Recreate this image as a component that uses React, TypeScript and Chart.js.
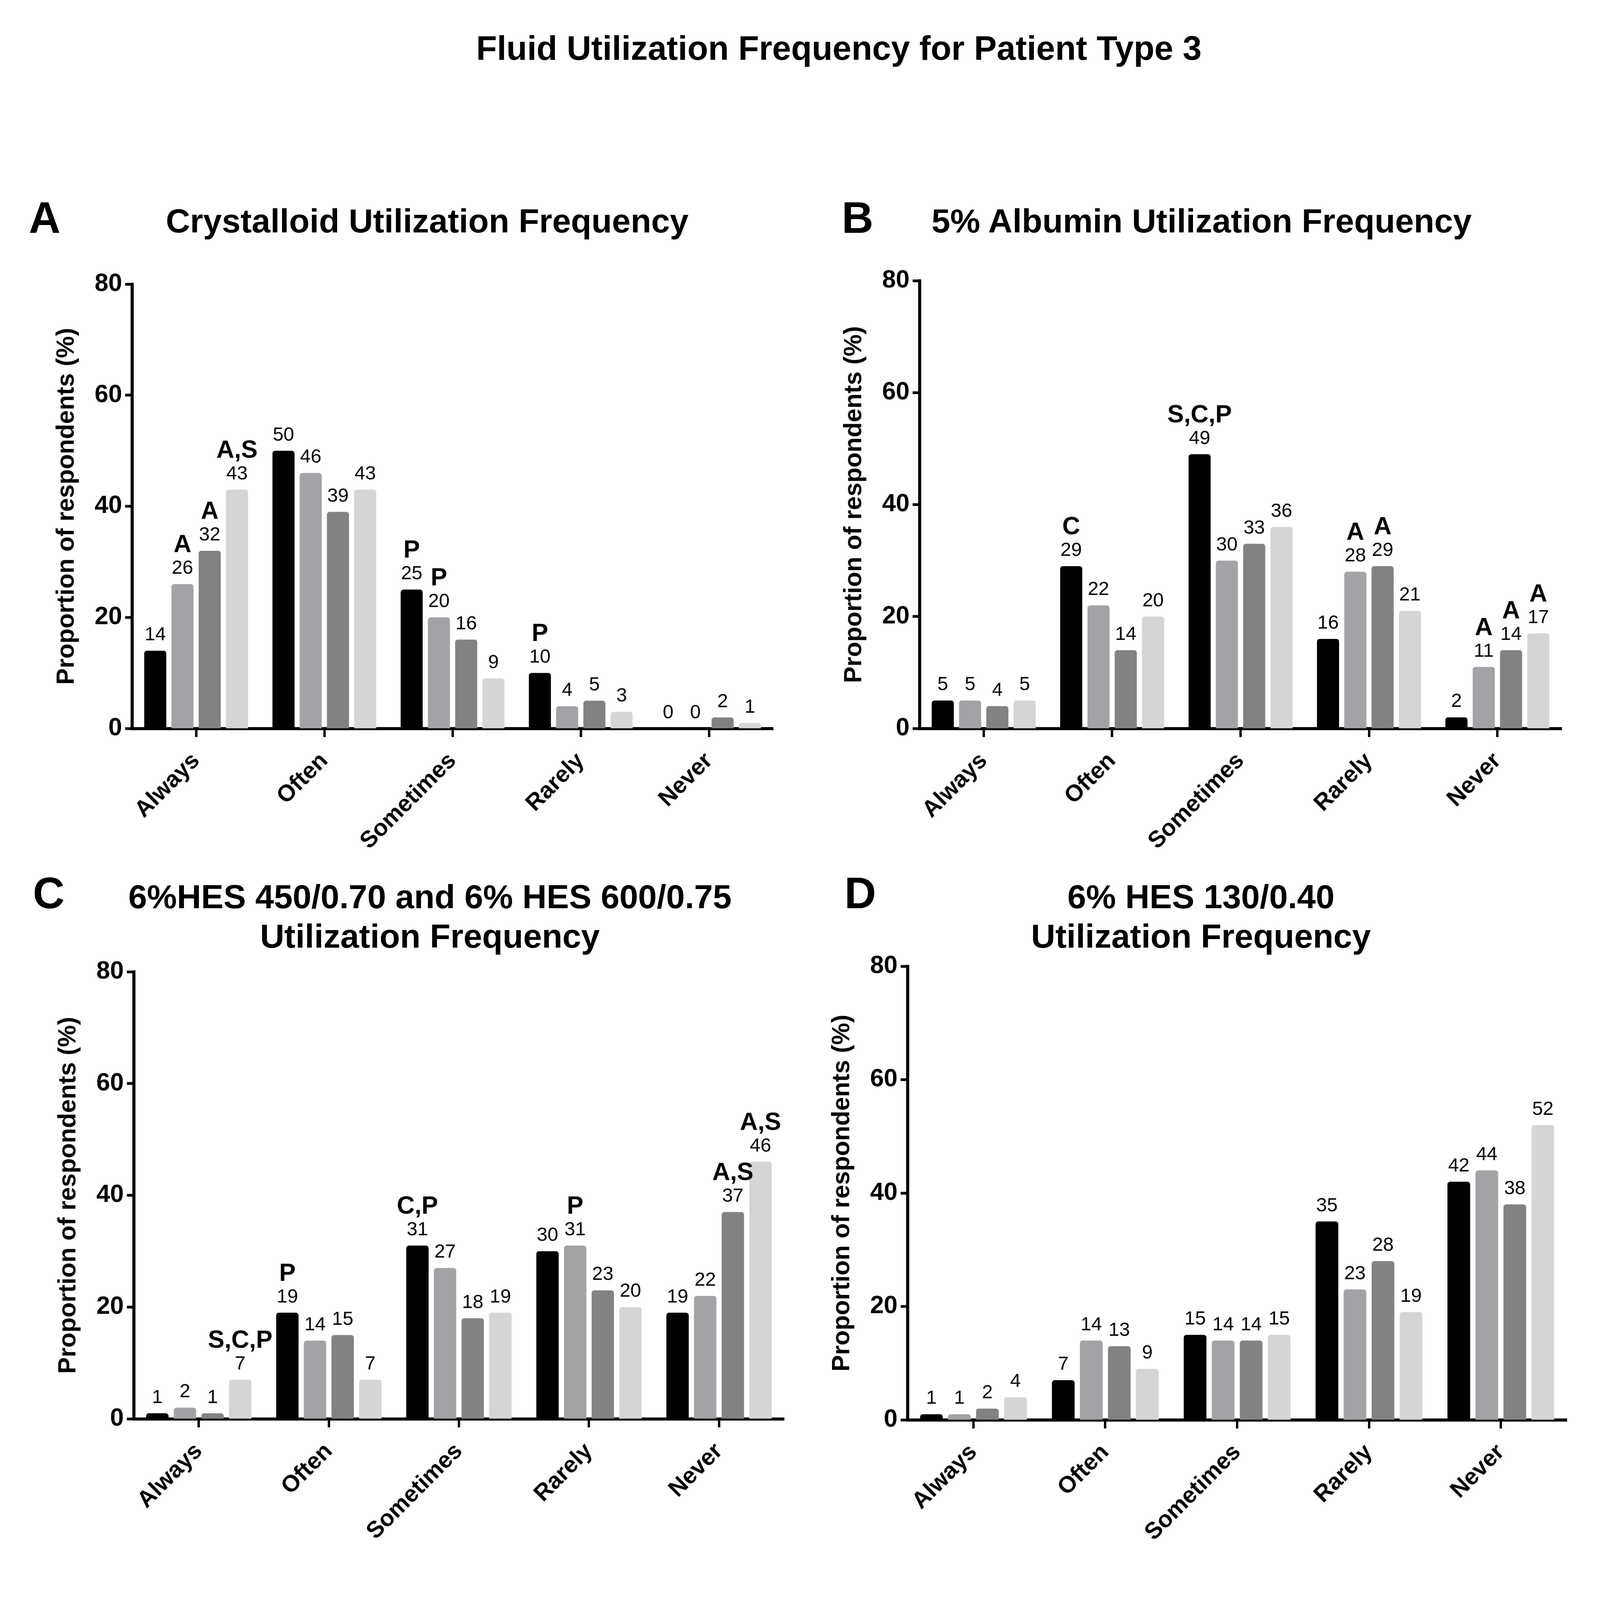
import React, { useEffect, useRef } from 'react';
import { Chart, registerables } from 'chart.js';

Chart.register(...registerables);

const categories = ['Always', 'Often', 'Sometimes', 'Rarely', 'Never'];
const groupNames = ['A', 'S', 'C', 'P'];
const barColors = ['#000000', '#a2a2a7', '#828282', '#d5d5d5'];
const yTicks = [0, 20, 40, 60, 80];

// one row per respondent group, one value per category
const crystalloidValues = [
  [14, 50, 25, 10, 0],
  [26, 46, 20, 4, 0],
  [32, 39, 16, 5, 2],
  [43, 43, 9, 3, 1],
];
const crystalloidNotes = [
  ['', '', 'P', 'P', ''],
  ['A', '', 'P', '', ''],
  ['A', '', '', '', ''],
  ['A,S', '', '', '', ''],
];

const albuminValues = [
  [5, 29, 49, 16, 2],
  [5, 22, 30, 28, 11],
  [4, 14, 33, 29, 14],
  [5, 20, 36, 21, 17],
];
const albuminNotes = [
  ['', 'C', 'S,C,P', '', ''],
  ['', '', '', 'A', 'A'],
  ['', '', '', 'A', 'A'],
  ['', '', '', '', 'A'],
];

const hesOldValues = [
  [1, 19, 31, 30, 19],
  [2, 14, 27, 31, 22],
  [1, 15, 18, 23, 37],
  [7, 7, 19, 20, 46],
];
const hesOldNotes = [
  ['', 'P', 'C,P', '', ''],
  ['', '', '', 'P', ''],
  ['', '', '', '', 'A,S'],
  ['S,C,P', '', '', '', 'A,S'],
];

const hesNewValues = [
  [1, 7, 15, 35, 42],
  [1, 14, 14, 23, 44],
  [2, 13, 14, 28, 38],
  [4, 9, 15, 19, 52],
];
const hesNewNotes = [
  ['', '', '', '', ''],
  ['', '', '', '', ''],
  ['', '', '', '', ''],
  ['', '', '', '', ''],
];

const FONT = '"Liberation Sans", Arial, sans-serif';
Chart.defaults.font.family = FONT;
Chart.defaults.color = '#000';

const PAGE_W = 4667;
const PAGE_H = 4663;
const YW = 330;
const XH = 440;
const PAD_T = 70;
const PAD_R = 30;

// draws the value above each bar and the significance letters above that
const barNotesPlugin = {
  id: 'barNotes',
  afterDatasetsDraw(chart: any, _args: any, opts: any) {
    const ctx = chart.ctx;
    ctx.save();
    ctx.fillStyle = '#000';
    ctx.textAlign = 'center';
    ctx.textBaseline = 'alphabetic';
    chart.data.datasets.forEach((ds: any, di: number) => {
      const meta = chart.getDatasetMeta(di);
      meta.data.forEach((bar: any, i: number) => {
        const { x, y } = bar.getProps(['x', 'y'], true);
        ctx.font = `56px ${FONT}`;
        ctx.fillText(String(ds.data[i]), x, y - 30);
        const note = opts.notes?.[di]?.[i];
        if (note) {
          ctx.font = `bold 72px ${FONT}`;
          ctx.fillText(note, x, y - 93);
        }
      });
    });
    ctx.restore();
  },
};

type Area = { l: number; t: number; r: number; b: number };

function BarPanel({ values, notes, area }: { values: number[][]; notes: string[][]; area: Area }) {
  const ref = useRef<HTMLCanvasElement>(null);
  const left = area.l - YW;
  const top = area.t - PAD_T;
  const width = area.r + PAD_R - left;
  const height = area.b + XH - top;

  useEffect(() => {
    if (!ref.current) return;
    const chart = new Chart(ref.current, {
      type: 'bar',
      data: {
        labels: categories,
        datasets: values.map((d, i) => ({
          label: groupNames[i],
          data: d,
          backgroundColor: barColors[i],
          borderRadius: 8,
          borderSkipped: 'start',
          categoryPercentage: 0.85,
          barPercentage: 0.81,
        })),
      },
      options: {
        responsive: false,
        animation: false,
        devicePixelRatio: 1,
        layout: { padding: { top: PAD_T, right: PAD_R, left: 0, bottom: 0 } },
        plugins: {
          legend: { display: false },
          tooltip: { enabled: false },
          barNotes: { notes },
        } as any,
        scales: {
          x: {
            z: 1,
            grid: {
              offset: false,
              drawOnChartArea: false,
              drawTicks: true,
              tickLength: 25,
              tickWidth: 7,
              tickColor: '#000',
            },
            border: { display: true, width: 9, color: '#000' },
            ticks: {
              autoSkip: false,
              minRotation: 45,
              maxRotation: 45,
              padding: 30,
              color: '#000',
              font: { size: 68, weight: 'bold' },
            },
            afterFit: (s: any) => {
              s.height = XH;
            },
          },
          y: {
            z: 1,
            min: 0,
            max: 80,
            afterBuildTicks: (s: any) => {
              s.ticks = yTicks.map((v) => ({ value: v }));
            },
            grid: {
              drawOnChartArea: false,
              drawTicks: true,
              tickLength: 20,
              tickWidth: 8,
              tickColor: '#000',
            },
            border: { display: true, width: 9, color: '#000' },
            ticks: {
              padding: 9,
              color: '#000',
              font: { size: 72, weight: 'bold' },
            },
            title: {
              display: true,
              text: 'Proportion of respondents (%)',
              color: '#000',
              font: { size: 72, weight: 'bold' },
              padding: { top: 97, bottom: 0 },
            },
            afterFit: (s: any) => {
              s.width = YW;
            },
          },
        },
      } as any,
      plugins: [barNotesPlugin],
    });
    return () => chart.destroy();
  }, []);

  return (
    <canvas
      ref={ref}
      width={width}
      height={height}
      style={{ position: 'absolute', left, top, width, height }}
    />
  );
}

const titleStyle: React.CSSProperties = {
  position: 'absolute',
  fontFamily: FONT,
  fontWeight: 'bold',
  fontSize: 98,
  lineHeight: '115px',
  whiteSpace: 'nowrap',
  textAlign: 'center',
  transform: 'translateX(-50%)',
  color: '#000',
};

const letterStyle: React.CSSProperties = {
  position: 'absolute',
  fontFamily: FONT,
  fontWeight: 'bold',
  fontSize: 128,
  lineHeight: '128px',
  color: '#000',
};

export default function App() {
  // the viewport may be smaller than the picture size; fit the page into it
  const sx = Math.min(1, window.innerWidth / PAGE_W);
  const sy = Math.min(1, window.innerHeight / PAGE_H);

  return (
    <div
      style={{
        position: 'absolute',
        left: 0,
        top: 0,
        width: PAGE_W,
        height: PAGE_H,
        background: '#fff',
        overflow: 'hidden',
        transform: `scale(${sx}, ${sy})`,
        transformOrigin: '0 0',
      }}
    >
      <div style={{ ...titleStyle, fontSize: 99, left: 2447, top: 82 }}>
        Fluid Utilization Frequency for Patient Type 3
      </div>

      <div style={{ ...letterStyle, left: 84, top: 570 }}>A</div>
      <div style={{ ...titleStyle, left: 1246, top: 586 }}>Crystalloid Utilization Frequency</div>
      <BarPanel values={crystalloidValues} notes={crystalloidNotes} area={{ l: 385, t: 828, r: 2255, b: 2123 }} />

      <div style={{ ...letterStyle, left: 2455, top: 570 }}>B</div>
      <div style={{ ...titleStyle, left: 3505, top: 586 }}>5% Albumin Utilization Frequency</div>
      <BarPanel values={albuminValues} notes={albuminNotes} area={{ l: 2682, t: 818, r: 4555, b: 2123 }} />

      <div style={{ ...letterStyle, left: 96, top: 2539 }}>C</div>
      <div style={{ ...titleStyle, left: 1254, top: 2556 }}>
        6%HES 450/0.70 and 6% HES 600/0.75
        <br />
        Utilization Frequency
      </div>
      <BarPanel values={hesOldValues} notes={hesOldNotes} area={{ l: 390, t: 2832, r: 2287, b: 4135 }} />

      <div style={{ ...letterStyle, left: 2463, top: 2539 }}>D</div>
      <div style={{ ...titleStyle, left: 3503, top: 2556 }}>
        6% HES 130/0.40
        <br />
        Utilization Frequency
      </div>
      <BarPanel values={hesNewValues} notes={hesNewNotes} area={{ l: 2647, t: 2816, r: 4570, b: 4138 }} />
    </div>
  );
}
